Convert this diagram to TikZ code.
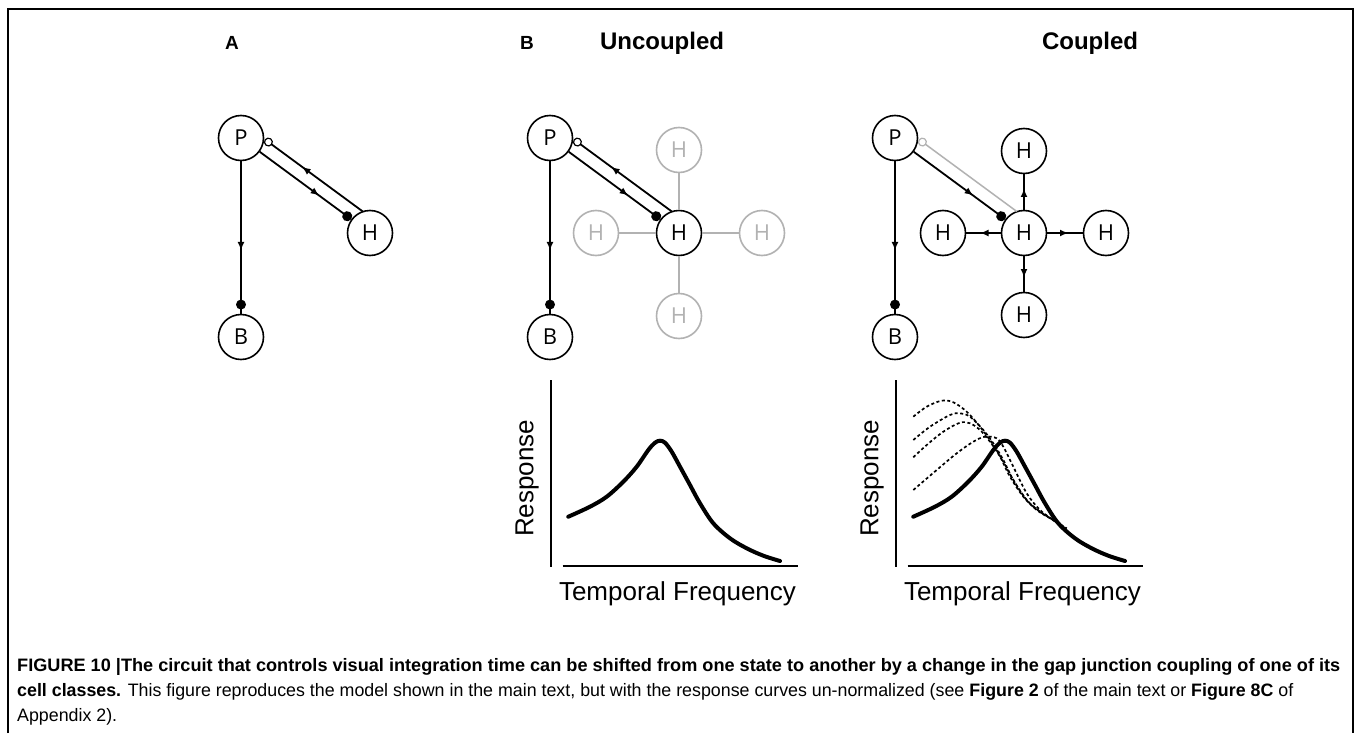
\documentclass[tikz,border=0pt]{standalone}
\usepackage{fontspec}
\setmainfont{Liberation Sans}
\newfontfamily\nodefont{Open Sans}
\usetikzlibrary{arrows.meta,decorations.markings,calc}
\definecolor{lg}{gray}{0.7}
\newsavebox\capbox
\newcommand\capline[2]{\sbox\capbox{#2}\pgfmathsetmacro\capscale{#1/\the\wd\capbox}\xdef\lastscale{\capscale}\scalebox{\capscale}[1]{\usebox\capbox}}
\tikzset{
  cell/.style={circle, draw, line width=1.6pt, minimum size=45pt, inner sep=0pt, font=\nodefont\fontsize{22}{22}\selectfont},
  gcell/.style={cell, draw=lg, text=lg},
  conn/.style={line width=1.8pt},
  gconn/.style={line width=1.5pt, draw=lg},
  midarrow/.style={postaction={decorate, decoration={markings, mark=at position #1 with {\arrow{Latex[length=8.5pt,width=7pt]}}}}},
  dotmark/.style={postaction={decorate, decoration={markings, mark=at position #1 with {\fill (0,0) circle (5pt);}}}},
  dotend/.style={-{Circle[length=10pt]}},
  openend/.style={-{Circle[open,length=9pt,line width=1.2pt]}},
  title/.style={font=\bfseries\fontsize{24}{24}\selectfont, anchor=base},
  ptitle/.style={font=\bfseries\fontsize{19}{19}\selectfont, anchor=base},
  axis/.style={line width=2pt},
  lbl/.style={font=\fontsize{26}{26}\selectfont, anchor=base},
  solidcurve/.style={line width=4pt, line cap=round, line join=round},
  dashcurve/.style={line width=1.7pt, dash pattern=on 3pt off 2.5pt},
  capstyle/.style={anchor=base west, inner sep=0pt, font=\fontsize{18}{18}\selectfont},
}
\newcommand\pairlinks[3]{%
  \draw[conn, midarrow=0.65, dotend] (#1) -- (#2);
  \draw[#3] ($(#2)+(-7.2,-21.5)$) -- ($(#1)+(23.8,1.4)$);
  \draw[conn, midarrow=0.585, dotmark=0.94] (#1) -- (#1B);
}
\begin{document}
\begin{tikzpicture}[x=1pt, y=-1pt]
\useasboundingbox (0,0) rectangle (1356,733);
\fill[white] (0,0) rectangle (1356,733);
\draw[line width=1.2pt] (8,733) -- (8,9) -- (1353,9) -- (1353,733);

% titles
\node[ptitle] (tA) at (232,50) {A};
\node[ptitle] (tB) at (527,50) {B};
\node[title] (tU) at (662,50) {Uncoupled};
\node[title] (tC) at (1090,50) {Coupled};

% panel A
\node[cell] (PA) at (241,138) {P};
\node[cell] (HA) at (370,233) {H};
\node[cell] (PAB) at (241,337) {B};
\pairlinks{PA}{HA}{conn, midarrow=0.62, openend}

% panel B uncoupled
\node[cell] (PU) at (550,138) {P};
\node[cell] (HU) at (679,233) {H};
\node[cell] (PUB) at (550,337) {B};
\node[gcell] (HUt) at (679,150) {H};
\node[gcell] (HUb) at (679,316) {H};
\node[gcell] (HUl) at (596,233) {H};
\node[gcell] (HUr) at (762,233) {H};
\draw[gconn] (HU) -- (HUt);
\draw[gconn] (HU) -- (HUb);
\draw[gconn] (HU) -- (HUl);
\draw[gconn] (HU) -- (HUr);
\pairlinks{PU}{HU}{conn, midarrow=0.62, openend}

% panel B coupled
\node[cell] (PC) at (895,138) {P};
\node[cell] (HC) at (1024,233) {H};
\node[cell] (PCB) at (895,337) {B};
\node[cell] (HCt) at (1024,151) {H};
\node[cell] (HCb) at (1024,315) {H};
\node[cell] (HCl) at (943,233) {H};
\node[cell] (HCr) at (1106,233) {H};
\draw[conn, midarrow=0.6] (HC) -- (HCt);
\draw[conn, midarrow=0.6] (HC) -- (HCb);
\draw[conn, midarrow=0.6] (HC) -- (HCl);
\draw[conn, midarrow=0.6] (HC) -- (HCr);
\pairlinks{PC}{HC}{gconn, openend}

% plots
\foreach \dx/\nm in {0/U, 345/C} {
  \begin{scope}[xshift=\dx pt]
    \draw[axis] (550.7,380) -- (550.7,566.7);
    \draw[axis] (562.7,566) -- (798.3,566);
    \node[lbl, rotate=90] at (533.3,478.3) {Response};
    \node[lbl] at (677.5,600) {Temporal Frequency};
    \draw[solidcurve] plot[smooth, tension=0.55] coordinates {
      (568.3,516.7) (590,506.7) (606.7,496.7) (623.3,481.7) (636.7,466.7)
      (648.3,450) (655,442.7) (660,440.7) (665,442.7) (671.7,451.7)
      (680,466.7) (690,485) (700,503.3) (713.3,523.3) (730,538.3)
      (746.7,548.3) (763.3,555.7) (780,561)};
  \end{scope}
}
\draw[dashcurve] plot[smooth, tension=0.55] coordinates {
  (913.3,490) (936.7,470) (956.7,453.3) (973.3,441.7) (985,436.7) (996.7,438.3)
  (1003.3,446.7) (1013.3,466.7) (1026.7,493.3) (1040,510) (1053.3,520) (1066.7,530)};
\draw[dashcurve] plot[smooth, tension=0.55] coordinates {
  (913.3,457.3) (926.7,445) (943.3,431.7) (960,422.7) (970,423.3) (980,430)
  (990,441.7) (1000,456.7) (1010,476.7) (1023.3,496.7) (1036.7,510) (1050,518.3) (1063.3,526.7)};
\draw[dashcurve] plot[smooth, tension=0.55] coordinates {
  (913.3,440) (930,426.7) (950,415) (960,413.3) (970,416.7) (983.3,430)
  (993.3,443.3) (1003.3,460) (1013.3,480) (1026.7,500) (1040,511.7) (1053.3,520) (1066.7,528.3)};
\draw[dashcurve] plot[smooth, tension=0.55] coordinates {
  (913.3,416.7) (926.7,406.7) (941.7,400.7) (953.3,402.3) (966.7,411.7) (980,426.7)
  (993.3,445) (1003.3,461.7) (1013.3,480) (1026.7,500) (1040,511.7) (1053.3,520) (1066.7,529.3)};

% caption
\node[capstyle] (cap1) at (17,671)
  {\capline{1323}{\bfseries FIGURE 10 |The circuit that controls visual integration time can be shifted from one state to another by a change in the gap junction coupling of one of its}};
\node[capstyle] (cap2) at (17,696)
  {\capline{1276}{\textbf{cell classes.} This figure reproduces the model shown in the main text, but with the response curves un-normalized (see \textbf{Figure 2} of the main text or \textbf{Figure 8C} of}};
\node[capstyle] (cap3) at (17,721)
  {\scalebox{\lastscale}[1]{Appendix 2).}};
\end{tikzpicture}
\end{document}
